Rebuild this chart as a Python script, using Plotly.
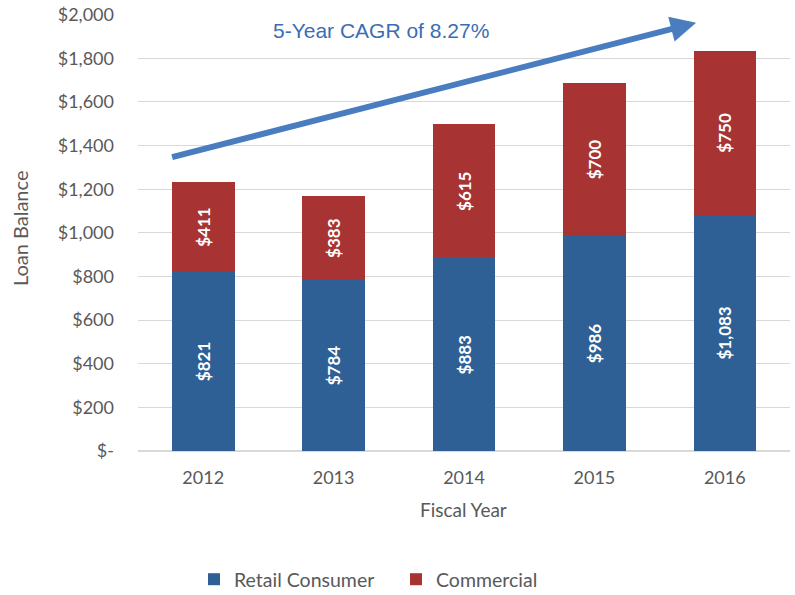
import plotly.graph_objects as go

years = ["2012", "2013", "2014", "2015", "2016"]
retail = [821, 784, 883, 986, 1083]
commercial = [411, 383, 615, 700, 750]
y_ticks = [0, 200, 400, 600, 800, 1000, 1200, 1400, 1600, 1800, 2000]
y_tick_labels = ["$-", "$200", "$400", "$600", "$800", "$1,000", "$1,200", "$1,400", "$1,600", "$1,800", "$2,000"]
cagr_text = "5-Year CAGR of 8.27%"

BLUE = "#2e6095"
RED = "#a83333"
GRAY = "#595959"
FONT = "Lato, Open Sans, sans-serif"

def fmt(v):
    return "${:,}".format(v)

fig = go.Figure()
fig.add_trace(go.Bar(
    x=years, y=retail, name="Retail Consumer",
    marker=dict(color=BLUE, line=dict(width=0)),
    text=[fmt(v) for v in retail], textposition="inside", textangle=-90,
    insidetextanchor="middle",
    textfont=dict(color="white", size=17, family=FONT, weight="bold"),
    width=0.48,
))
fig.add_trace(go.Bar(
    x=years, y=commercial, name="Commercial",
    marker=dict(color=RED, line=dict(width=0)),
    text=[fmt(v) for v in commercial], textposition="inside", textangle=-90,
    insidetextanchor="middle",
    textfont=dict(color="white", size=17, family=FONT, weight="bold"),
    width=0.48,
))

fig.add_annotation(
    x=3.78, y=1963, ax=-0.25, ay=1345,
    xref="x", yref="y", axref="x", ayref="y",
    text="", showarrow=True, arrowhead=2, arrowsize=0.85, arrowwidth=6,
    arrowcolor="#4a7cc0",
)
fig.add_annotation(
    x=1.36, y=1927, xref="x", yref="y", text=cagr_text, showarrow=False,
    font=dict(size=21, color="#3a6db3", family="Liberation Sans, Arial, sans-serif"),
)
fig.add_annotation(
    x=-0.181, y=0.51, xref="paper", yref="paper", text="Loan Balance",
    textangle=-90, showarrow=False, xanchor="center", yanchor="middle",
    font=dict(size=20, color=GRAY, family=FONT),
)
fig.add_annotation(
    x=0.4985, y=-0.135, xref="paper", yref="paper", text="Fiscal Year",
    showarrow=False, xanchor="center", yanchor="middle",
    font=dict(size=19, color=GRAY, family=FONT),
)

fig.update_layout(
    barmode="stack",
    width=795, height=595,
    margin=dict(l=138, r=5, t=14, b=144),
    plot_bgcolor="white", paper_bgcolor="white",
    font=dict(family=FONT, color=GRAY, size=18),
    showlegend=True,
    legend=dict(orientation="h", x=0.0859, xanchor="left",
                yref="container", y=0.026, yanchor="middle",
                font=dict(size=19.5, color=GRAY), traceorder="normal",
                itemwidth=30, entrywidth=157),
    bargap=0.52,
    uniformtext=dict(mode="show", minsize=10),
)
fig.update_xaxes(
    type="category", showgrid=False, showline=False, ticks="", automargin=False,
    tickfont=dict(size=18, color=GRAY), ticklabelstandoff=14,
)
fig.update_yaxes(
    range=[0, 2003], tickvals=y_ticks, ticktext=y_tick_labels, automargin=False,
    ticklabeloverflow="allow",
    showgrid=True, gridcolor="#d9d9d9", gridwidth=1, zeroline=True, zerolinecolor="#d9d9d9",
    tickfont=dict(size=18, color=GRAY), ticklabelstandoff=23,
)

fig.write_html("out.html", config={"displayModeBar": False},
               post_script="document.body.style.margin='0';")
